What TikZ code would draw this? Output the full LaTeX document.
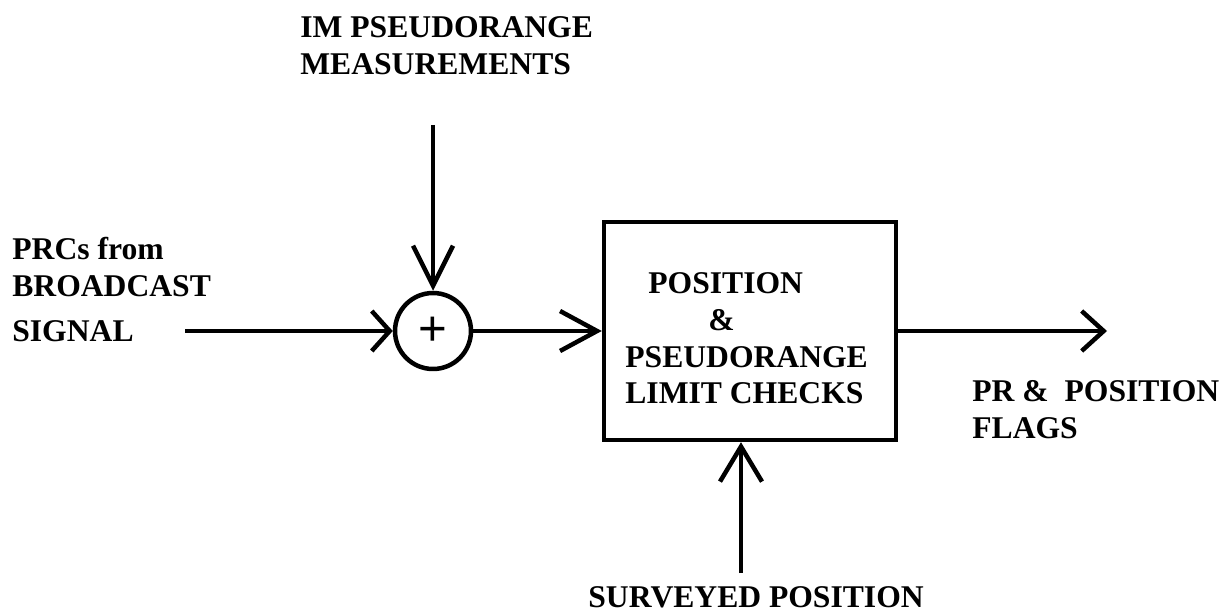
\documentclass[tikz,border=0pt]{standalone}
\usepackage{fontspec}
\setmainfont{Liberation Serif}
\newfontfamily\plusfont{Liberation Sans}
\usetikzlibrary{positioning,arrows.meta,calc}

\begin{document}
\begin{tikzpicture}[x=0.02cm,y=-0.02cm,
  lbl/.style={inner sep=0pt,anchor=north west,font=\fontsize{18}{21}\selectfont\bfseries},
  wire/.style={line width=0.09cm},
  blk/.style={draw,line width=0.09cm,minimum width=5.84cm,minimum height=4.36cm,inner sep=0pt},
  sumnode/.style={draw,circle,line width=0.09cm,minimum size=1.52cm,inner sep=0pt,font=\plusfont\fontsize{28}{28}\selectfont}]
\useasboundingbox (0,0) rectangle (1227,615);

\node[blk] (chk) at (750,331) {};
\node[sumnode] (sum) at (433,331) {+};

\node[lbl,align=left] (chktxt) at (625,272) {\hspace*{0.46cm}POSITION\\\hspace*{1.66cm}\&\\PSEUDORANGE\\LIMIT CHECKS};
\node[lbl,align=left] (imlbl) at (300,16) {IM PSEUDORANGE\\MEASUREMENTS};
\node[lbl,align=left] (prclbl) at (12,237) {PRCs from\\BROADCAST\\[0.16cm]SIGNAL};
\node[lbl,align=left] (flaglbl) at (972,380) {PR \& \ POSITION\\FLAGS};
\node[lbl] (survlbl) at (588,586) {SURVEYED POSITION};

\coordinate (sigin) at (185,331);
\coordinate (imin) at (433,125);
\coordinate (flagout) at (1107,331);
\coordinate (survin) at (741,573);

\draw[wire,-{Straight Barb[length=0.36cm,width=0.8cm]}] (sigin) -- (sum);
\draw[wire,-{Straight Barb[length=0.8cm,width=0.8cm]}] (imin) -- (sum);
\draw[wire,-{Straight Barb[length=0.74cm,width=0.8cm]}] (sum) -- (chk);
\draw[wire,-{Straight Barb[length=0.44cm,width=0.8cm]}] (chk) -- (flagout);
\draw[wire,-{Straight Barb[length=0.7cm,width=0.84cm]}] (survin) -- (survin |- chk.south);

\end{tikzpicture}
\end{document}
